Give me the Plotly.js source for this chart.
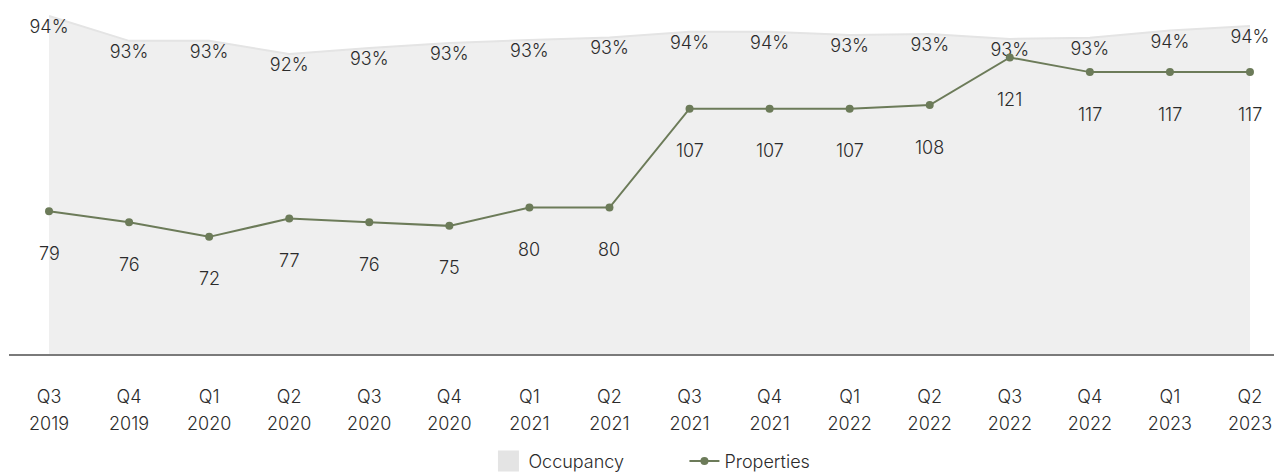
<!DOCTYPE html>
<html>
<head>
<meta charset="utf-8">
<script src="https://cdn.plot.ly/plotly-3.0.1.min.js"></script>
<style>html,body{margin:0;padding:0;background:#fff}#chart{width:1274px;height:476px}</style>
</head>
<body>
<div id="chart"></div>
<script>
const categories = ['Q3 2019','Q4 2019','Q1 2020','Q2 2020','Q3 2020','Q4 2020','Q1 2021','Q2 2021','Q3 2021','Q4 2021','Q1 2022','Q2 2022','Q3 2022','Q4 2022','Q1 2023','Q2 2023'];
const quarterLabels = ['Q3','Q4','Q1','Q2','Q3','Q4','Q1','Q2','Q3','Q4','Q1','Q2','Q3','Q4','Q1','Q2'];
const yearLabels = ['2019','2019','2020','2020','2020','2020','2021','2021','2021','2021','2022','2022','2022','2022','2023','2023'];
const occupancy = [94.44, 93.06, 93.06, 92.33, 92.67, 92.94, 93.11, 93.25, 93.56, 93.57, 93.39, 93.44, 93.17, 93.24, 93.63, 93.89];
const properties = [79, 76, 72, 77, 76, 75, 80, 80, 107, 107, 107, 108, 121, 117, 117, 117];

const FONT = 'Inter, "Noto Sans", sans-serif';
const TXT = '#2b2b2b';
const GREEN = '#6c7b59';
const tf = {family: FONT, size: 18, color: TXT, weight: 300};

const traces = [
  {
    x: categories, y: occupancy, name: 'Occupancy', xaxis: 'x', yaxis: 'y',
    type: 'scatter', mode: 'lines+markers+text', fill: 'tozeroy',
    fillcolor: '#efefef', line: {color: '#e4e4e4', width: 2},
    marker: {size: 4, opacity: 0, color: '#e4e4e4'},
    texttemplate: '%{y:.0f}%', textposition: 'bottom center',
    textfont: tf, cliponaxis: false, showlegend: false, hoverinfo: 'skip'
  },
  {
    x: [null], y: [null], name: 'Occupancy', xaxis: 'x', yaxis: 'y',
    type: 'scatter', mode: 'markers',
    marker: {symbol: 'square', size: 16, color: '#e4e4e4', line: {color: '#e4e4e4', width: 5}},
    hoverinfo: 'skip'
  },
  {
    x: categories, y: properties, name: 'Properties', xaxis: 'x2', yaxis: 'y2',
    type: 'scatter', mode: 'lines+markers',
    line: {color: GREEN, width: 2}, marker: {color: GREEN, size: 8},
    cliponaxis: false, hoverinfo: 'skip'
  }
];

const annotations = properties.map((v, i) => ({
  x: categories[i], y: v, xref: 'x2', yref: 'y2', text: String(v),
  showarrow: false, yshift: -42, font: tf
}));

const xRange = [-0.5, 15.3];
const layout = {
  width: 1274, height: 476,
  margin: {l: 9, r: 0, t: 0, b: 122, autoexpand: false},
  paper_bgcolor: '#fff', plot_bgcolor: 'rgba(0,0,0,0)',
  font: tf,
  showlegend: true,
  legend: {orientation: 'h', x: 0.379, xanchor: 'left', y: -0.303, yanchor: 'middle',
           entrywidth: 151, font: tf, traceorder: 'normal'},
  xaxis: {
    type: 'category', categoryarray: categories, range: xRange,
    tickvals: categories, ticktext: quarterLabels,
    showgrid: false, zeroline: false, automargin: false,
    showline: true, linecolor: '#7a7a7a', linewidth: 2,
    ticks: 'outside', ticklen: 25, tickcolor: 'rgba(0,0,0,0)',
    tickfont: tf, fixedrange: true
  },
  xaxis2: {
    type: 'category', categoryarray: categories, range: xRange, overlaying: 'x', anchor: 'y',
    side: 'bottom', tickvals: categories, ticktext: yearLabels, automargin: false,
    showgrid: false, zeroline: false, showline: false,
    ticks: 'outside', ticklen: 53, tickcolor: 'rgba(0,0,0,0)',
    tickfont: tf, fixedrange: true
  },
  yaxis: {range: [75.67, 95.33], visible: false, showgrid: false, zeroline: false, fixedrange: true},
  yaxis2: {range: [40, 136.7], overlaying: 'y', side: 'right', visible: false,
           showgrid: false, zeroline: false, fixedrange: true},
  annotations: annotations
};

Plotly.newPlot('chart', traces, layout, {displayModeBar: false, staticPlot: true});
</script>
</body>
</html>
